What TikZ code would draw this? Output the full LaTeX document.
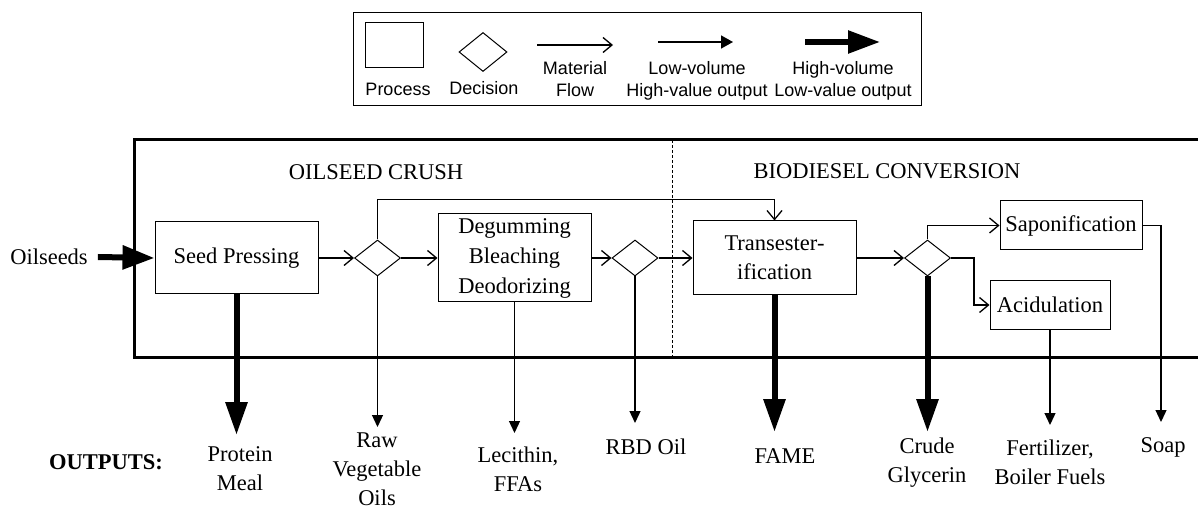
\documentclass[tikz,border=0pt]{standalone}
\usepackage{fontspec}
\setmainfont{Liberation Serif}
\newfontfamily\legendfont{Liberation Sans}
\usetikzlibrary{arrows.meta,shapes.geometric}
\tikzset{
  main/.style={font=\fontsize{22.5}{29}\selectfont},
  proc/.style={main, draw, line width=1pt, inner sep=0pt, align=center},
  decis/.style={draw, diamond, line width=1pt, inner sep=0pt, minimum width=46pt, minimum height=36pt},
  flow/.style={line width=1.3pt, -{Straight Barb[length=9pt,width=15pt]}},
  lowout/.style={line width=1.3pt, -{Triangle[length=12pt,width=11pt]}},
  highout/.style={line width=6pt, -{Triangle[length=33pt,width=21pt]}},
  outtext/.style={main, align=center, inner sep=0pt},
  leg/.style={font=\legendfont\fontsize{18}{22}\selectfont, inner sep=0pt, anchor=base},
}
\begin{document}
\begin{tikzpicture}[x=1pt,y=-1pt]
\useasboundingbox (0,0) rectangle (1198,510);

% legend
\draw[line width=1pt] (353,13) rectangle (921,106);
\node[draw, line width=1pt, minimum width=58pt, minimum height=45pt, inner sep=0pt] (lproc) at (394,45.5) {};
\node[decis, minimum width=48pt, minimum height=39pt] (ldec) at (483,52) {};
\coordinate (lm1) at (537,45); \coordinate (lm2) at (613,45);
\draw[flow] (lm1) -- (lm2);
\coordinate (ll1) at (658,42); \coordinate (ll2) at (733,42);
\draw[line width=1.5pt, -{Triangle[length=12pt,width=13pt]}] (ll1) -- (ll2);
\coordinate (lh1) at (805,42); \coordinate (lh2) at (880,42);
\draw[line width=5.5pt, -{Triangle[length=32pt,width=22pt]}] (lh1) -- (lh2);
\node[leg] (tproc) at (398,96) {Process};
\node[leg] (tdec) at (484,95) {Decision};
\node[leg] (tmat1) at (575,75) {Material};
\node[leg] (tmat2) at (575,97) {Flow};
\node[leg] (tlow1) at (697,75) {Low-volume};
\node[leg] (tlow2) at (697,97) {High-value output};
\node[leg] (thigh1) at (843,75) {High-volume};
\node[leg] (thigh2) at (843,97) {Low-value output};

% outer frame
\draw[line width=3pt] (1200,140) -- (134,140) -- (134,357) -- (1200,357);
\draw[line width=1pt, dash pattern=on 3pt off 2pt] (672,140) -- (672,357);
\node[main, anchor=base, inner sep=0pt] (crush) at (376,180) {OILSEED CRUSH};
\node[main, anchor=base, inner sep=0pt] (conv) at (887,179) {BIODIESEL CONVERSION};

% process nodes
\node[main, inner sep=0pt] (oil) at (49,257) {Oilseeds};
\node[proc, minimum width=163pt, minimum height=72pt] (seed) at (236.5,258) {Seed Pressing};
\node[decis] (d1) at (377.5,258) {};
\node[proc, minimum width=153pt, minimum height=88pt, font=\fontsize{22.5}{30}\selectfont] (degum) at (514.5,258) {Degumming\\Bleaching\\Deodorizing};
\node[decis] (d2) at (635,258) {};
\node[proc, minimum width=163pt, minimum height=74pt] (trans) at (774.5,258) {Transester-\\ification};
\node[decis] (d3) at (927.5,258) {};
\node[proc, minimum width=142pt, minimum height=49pt] (sapon) at (1071,225.5) {Saponification};
\node[proc, minimum width=120pt, minimum height=48pt] (acid) at (1050,305) {Acidulation};

% outputs
\node[main, font=\bfseries\fontsize{22.5}{29}\selectfont, inner sep=0pt] (outs) at (106,462) {OUTPUTS:};
\node[outtext] (protein) at (240,469) {Protein\\Meal};
\node[outtext] (raw) at (377,469) {Raw\\Vegetable\\Oils};
\node[outtext] (lec) at (518,469) {Lecithin,\\FFAs};
\node[outtext] (rbd) at (646,447) {RBD Oil};
\node[outtext] (fame) at (785,456) {FAME};
\node[outtext] (gly) at (927,462.5) {Crude\\Glycerin};
\node[outtext] (fert) at (1050,462.5) {Fertilizer,\\Boiler Fuels};
\node[outtext] (soap) at (1163,447) {Soap};

\coordinate (cprot) at (236.5,435);
\coordinate (craw) at (377.5,427);
\coordinate (clec) at (514.5,433);
\coordinate (crbd) at (635,423);
\coordinate (cfame) at (774.5,432);
\coordinate (cgly) at (927.5,432);
\coordinate (cfert) at (1050,425);
\coordinate (csoap) at (1161,422);

% material flow
\draw[line width=6pt, -{Triangle[length=32pt,width=23pt]}] (oil.east) ++(10,0) -- (seed.west);
\draw[flow] (seed.east) -- (d1.west);
\draw[flow] (d1.east) -- (degum.west);
\draw[flow] (degum.east) -- (d2.west);
\draw[flow] (d2.east) -- (trans.west);
\draw[flow] (d1.north) -- ++(0,-40) -| (trans.north);
\draw[flow] (trans.east) -- (d3.west);
\draw[flow] (d3.north) |- (sapon.west);
\draw[flow] (d3.east) -- ++(23,0) |- (acid.west);

% outputs arrows
\draw[highout] (seed.south) -- (cprot);
\draw[lowout] (d1.south) -- (craw);
\draw[lowout] (degum.south) -- (clec);
\draw[lowout] (d2.south) -- (crbd);
\draw[highout] (trans.south) -- (cfame);
\draw[highout] (d3.south) -- (cgly);
\draw[lowout] (acid.south) -- (cfert);
\draw[lowout] (sapon.east) -| (csoap);
\end{tikzpicture}
\end{document}
